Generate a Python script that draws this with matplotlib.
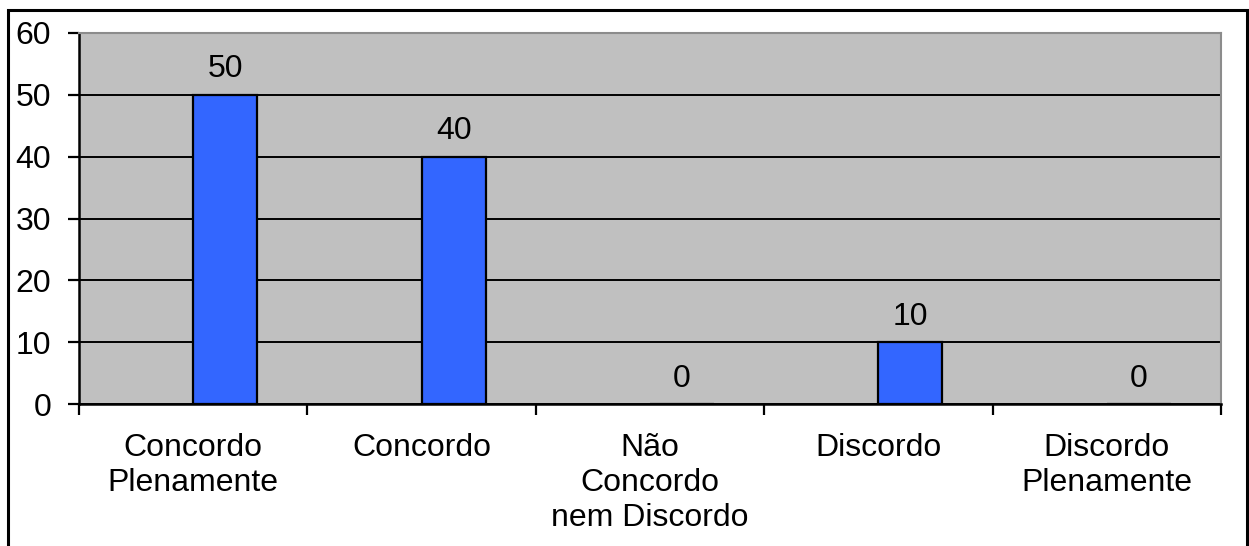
import numpy as np
import matplotlib.pyplot as plt
from matplotlib.patches import Rectangle

categorias = ['Concordo\nPlenamente', 'Concordo', 'Não\nConcordo\nnem Discordo',
              'Discordo', 'Discordo\nPlenamente']
valores = [50, 40, 0, 10, 0]
yticks = [0, 10, 20, 30, 40, 50, 60]

plt.rcParams['font.family'] = ['Liberation Sans', 'DejaVu Sans']
fs = 23

fig = plt.figure(figsize=(12.49, 5.46), dpi=100)
ax = fig.add_axes([79 / 1249, 1 - 404 / 546, (1221 - 79) / 1249, (404 - 33) / 546])

# moldura externa (sem a borda inferior)
fig.patches.append(Rectangle((8 / 1249, -0.05), (1247 - 8) / 1249, 1.05 - 10 / 546,
                             transform=fig.transFigure, fill=False,
                             edgecolor='black', linewidth=2.2, zorder=0))

x = np.arange(len(categorias))
ax.set_facecolor('#c0c0c0')
ax.bar(x, valores, width=0.28, align='edge', color='#3366ff',
       edgecolor='black', linewidth=1.6, zorder=2)

for xi, v in zip(x, valores):
    ax.annotate(str(v), (xi + 0.14, v), xytext=(0, 12.5), textcoords='offset points',
                ha='center', va='baseline', fontsize=fs)

ax.set_xlim(-0.5, len(categorias) - 0.5)
ax.set_ylim(0, 60)
ax.set_yticks(yticks)
ax.yaxis.grid(True, color='black', linewidth=1.4)
ax.set_axisbelow(True)

ax.set_xticks(x)
ax.set_xticklabels(categorias, fontsize=fs, linespacing=1.22)
ax.set_xticks(np.arange(len(categorias) + 1) - 0.5, minor=True)
ax.tick_params(axis='x', which='major', length=0, pad=21)
ax.tick_params(axis='x', which='minor', length=8, width=1.6, direction='out')
ax.tick_params(axis='y', length=8, width=1.6, pad=12, labelsize=fs)

for s in ['left', 'bottom']:
    ax.spines[s].set_color('black')
    ax.spines[s].set_linewidth(1.8)
for s in ['top', 'right']:
    ax.spines[s].set_color('#8c8c8c')
    ax.spines[s].set_linewidth(1.5)

fig.savefig('out.png', dpi=100)
